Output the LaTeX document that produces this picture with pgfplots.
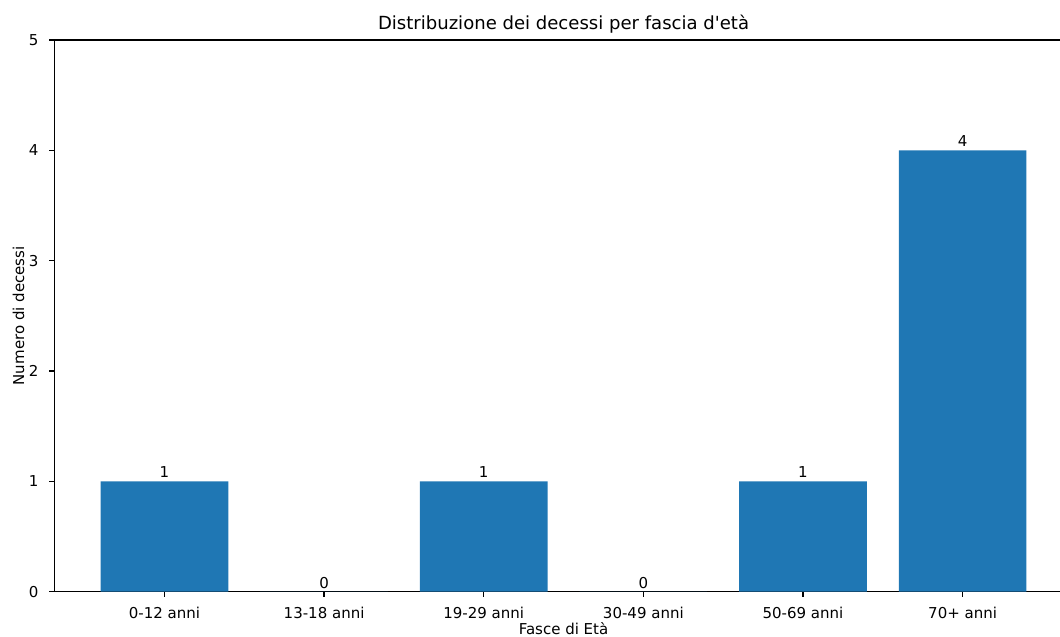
\documentclass[border=0pt]{standalone}
\usepackage{fontspec}
\setmainfont{DejaVu Sans}[Ligatures=TeXOff]
\usepackage{pgfplots}
\pgfplotsset{compat=1.18}
\definecolor{mplblue}{HTML}{1F77B4}
\begin{document}
\fontsize{10.8pt}{13pt}\selectfont
\begin{tikzpicture}
\begin{axis}[
  scale only axis, width=724.1pt, height=397.2pt,
  xmin=-0.69, xmax=5.61, ymin=0, ymax=5,
  axis lines*=left,
  axis line style={line width=0.85pt, black},
  xtick={0,1,2,3,4,5},
  xticklabels={0-12 anni,13-18 anni,19-29 anni,30-49 anni,50-69 anni,70+ anni},
  ytick={0,1,2,3,4,5},
  tick align=outside, major tick length=3.8pt,
  tick style={line width=0.85pt, black},
  /pgf/number format/assume math mode=true,
  ticklabel style={font=\fontsize{10.8pt}{13pt}\selectfont, inner sep=0pt},
  xticklabel style={anchor=base, yshift=-15.6pt},
  yticklabel style={anchor=east, xshift=-7.4pt},
  ybar, bar width=0.8,
  nodes near coords,
  nodes near coords style={font=\fontsize{10.8pt}{13pt}\selectfont, anchor=base, inner sep=0pt, yshift=2.6pt},
  clip=false,
]
\addplot[fill=mplblue, draw=none] coordinates {(0,1) (1,0) (2,1) (3,0) (4,1) (5,4)};
\draw[line width=0.85pt, black] (rel axis cs:0,1) -- (rel axis cs:1,1);
\coordinate (O) at (rel axis cs:0,0);
\coordinate (T) at (rel axis cs:1,1);
\node[anchor=base, inner sep=0pt, font=\fontsize{13pt}{15.6pt}\selectfont] at ([yshift=7.9pt]axis cs:2.5,5) {Distribuzione dei decessi per fascia d'età};
\node[anchor=base, inner sep=0pt] at ([yshift=-31.2pt]axis cs:2.5,0) {Fasce di Età};
\node[anchor=base, inner sep=0pt, rotate=90] at ([xshift=-21.8pt]rel axis cs:0,0.5) {Numero di decessi};
\end{axis}
\pgfresetboundingbox
\path[use as bounding box] ([xshift=-39.1pt,yshift=-32.6pt]O) rectangle ([yshift=28.8pt]T);
\end{tikzpicture}
\end{document}
